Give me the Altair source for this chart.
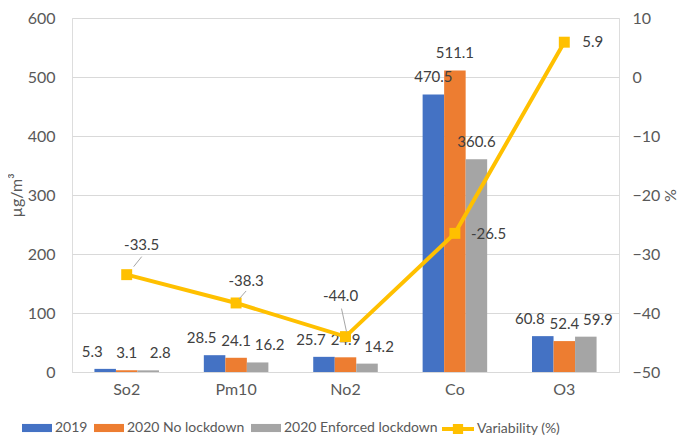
import altair as alt
import pandas as pd

categories = ["So2", "Pm10", "No2", "Co", "O3"]
series = ["2019", "2020 No lockdown", "2020 Enforced lockdown"]
v2019 = [5.3, 28.5, 25.7, 470.5, 60.8]
v2020_no = [3.1, 24.1, 24.9, 511.1, 52.4]
v2020_enf = [2.8, 16.2, 14.2, 360.6, 59.9]
variability = [-33.5, -38.3, -44.0, -26.5, 5.9]

bar_colors = ["#4472C4", "#ED7D31", "#A5A5A5"]
line_color = "#FFC000"
FONT = "Lato"
TXT = "#595959"

rows = []
for s, vals in zip(series, [v2019, v2020_no, v2020_enf]):
    for c, v in zip(categories, vals):
        rows.append({"cat": c, "series": s, "value": v, "label": f"{v:.1f}"})
bars_df = pd.DataFrame(rows)
line_df = pd.DataFrame({"cat": categories, "var": variability,
                        "label": [f"{v:.1f}" for v in variability],
                        "lser": ["Variability (%)"] * 5})

xscale = alt.Scale(domain=categories, paddingInner=0.41, paddingOuter=0.205)
xenc = alt.X("cat:N", scale=xscale, sort=categories,
             axis=alt.Axis(title=None, labelAngle=0, ticks=False, domain=True,
                           domainColor="#d9d9d9", labelFontSize=16, labelColor=TXT,
                           labelFont=FONT, labelPadding=9, grid=False))
xoff = alt.XOffset("series:N", sort=series, scale=alt.Scale(domain=series, paddingInner=0, paddingOuter=0))
yleft = alt.Scale(domain=[0, 600], nice=False)
yright = alt.Scale(domain=[-50, 10], nice=False)

bars = alt.Chart(bars_df).mark_bar().encode(
    x=xenc, xOffset=xoff,
    y=alt.Y("value:Q", scale=yleft,
            axis=alt.Axis(title="µg/m³", values=[0, 100, 200, 300, 400, 500, 600],
                          ticks=False, domain=False, grid=True, gridColor="#d9d9d9",
                          labelFontSize=16, labelColor=TXT, labelFont=FONT, labelPadding=17,
                          titleFontSize=16, titleFontWeight="normal", titleColor=TXT,
                          titleFont=FONT, titlePadding=3)),
    color=alt.Color("series:N", sort=series,
                    scale=alt.Scale(domain=series, range=bar_colors),
                    legend=alt.Legend(title=None, orient="none", direction="horizontal",
                                      legendX=-50, legendY=395,
                                      symbolType="M-1,-0.27L1,-0.27L1,0.27L-1,0.27Z",
                                      symbolSize=900, symbolStrokeWidth=0,
                                      labelFontSize=14, labelColor=TXT, labelFont=FONT,
                                      labelOffset=3, columnPadding=6)),
)

# label horizontal shift per series (to avoid overlapping on small bars)
label_dx = {"2019": -13, "2020 No lockdown": 0, "2020 Enforced lockdown": 12}
label_layers = []
for s in series:
    label_layers.append(
        alt.Chart(bars_df).transform_filter(
            (alt.datum.series == s) & (alt.datum.cat != "Co")
        ).mark_text(baseline="bottom", dy=-9, dx=label_dx[s], fontSize=15,
                    font=FONT, color="#404040").encode(
            x=xenc, xOffset=xoff,
            y=alt.Y("value:Q", scale=yleft, axis=None),
            text="label:N",
        ))
label_layers.append(
    alt.Chart(bars_df).transform_filter(alt.datum.cat == "Co").mark_text(
        baseline="bottom", dy=-9, fontSize=15, font=FONT, color="#404040").encode(
        x=xenc, xOffset=xoff,
        y=alt.Y("value:Q", scale=yleft, axis=None),
        text="label:N",
    ))

line = alt.Chart(line_df).mark_line(color=line_color, strokeWidth=4).encode(
    x=xenc,
    y=alt.Y("var:Q", scale=yright,
            axis=alt.Axis(title="%", orient="right", values=[-50, -40, -30, -20, -10, 0, 10],
                          ticks=False, domain=False, grid=False,
                          labelFontSize=16, labelColor=TXT, labelFont=FONT, labelPadding=13,
                          titleFontSize=16, titleFontWeight="normal", titleColor=TXT,
                          titleFont=FONT, titlePadding=2)),
)

points = alt.Chart(line_df).mark_point(shape="square", filled=True, size=120, opacity=1).encode(
    x=xenc,
    y=alt.Y("var:Q", scale=yright, axis=None),
    color=alt.Color("lser:N", scale=alt.Scale(domain=["Variability (%)"], range=[line_color]),
                    legend=alt.Legend(title=None, orient="none", direction="horizontal",
                                      legendX=370, legendY=395,
                                      symbolType="M-1,-0.12L1,-0.12L1,0.12L-1,0.12Z M-0.32,-0.32L0.32,-0.32L0.32,0.32L-0.32,0.32Z",
                                      symbolSize=1024, symbolStrokeWidth=0,
                                      labelFontSize=14, labelColor=TXT, labelFont=FONT,
                                      labelOffset=3)),
)

# label placement per point (style)
label_style = {
    "So2": dict(dx=15, dy=-30, align="center", lead=(7, -8, 15, -18)),
    "Pm10": dict(dx=10, dy=-22, align="center", lead=(3, -4, 10, -12)),
    "No2": dict(dx=-5, dy=-41, align="center", lead=(1, -5, -4, -28)),
    "Co": dict(dx=16, dy=1, align="left", lead=None),
    "O3": dict(dx=18, dy=0, align="left", lead=None),
}

layers = [bars] + label_layers + [line, points]
for c in categories:
    st = label_style[c]
    sub = alt.Chart(line_df).transform_filter(alt.datum.cat == c)
    layers.append(sub.mark_text(fontSize=15, font=FONT, color="#404040", align=st["align"],
                                baseline="middle", dx=st["dx"], dy=st["dy"]).encode(
        x=xenc, y=alt.Y("var:Q", scale=yright, axis=None), text="label:N"))
    if st["lead"]:
        a, b, c2, d = st["lead"]
        layers.append(sub.mark_rule(color="#A6A6A6", strokeWidth=1,
                                    xOffset=a, yOffset=b, x2Offset=c2, y2Offset=d).encode(
            x=xenc, x2=alt.X2("cat:N"),
            y=alt.Y("var:Q", scale=yright, axis=None), y2=alt.Y2("var:Q")))

chart = alt.layer(*layers).resolve_scale(y="independent", color="independent").properties(
    width=547, height=354,
    autosize=alt.AutoSizeParams(type="none"),
    padding={"left": 64, "top": 10, "right": 61, "bottom": 67},
).configure_view(stroke=None).configure(background="white")

chart.save("out.html", embed_options={"renderer": "svg", "actions": False})
